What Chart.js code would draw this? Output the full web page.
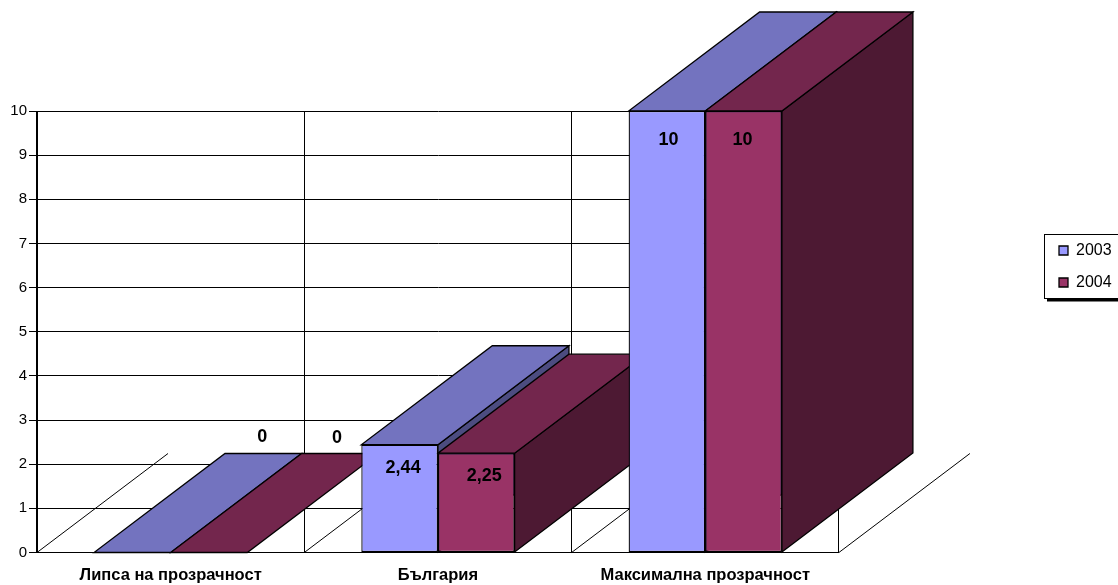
<!DOCTYPE html>
<html>
<head>
<meta charset="utf-8">
<style>html,body{margin:0;padding:0;background:#fff}canvas{display:block}</style>
<script src="https://cdn.jsdelivr.net/npm/chart.js@4"></script>
</head>
<body>
<canvas id="c" width="1118" height="585"></canvas>
<script>
const categories = ["Липса на прозрачност", "България", "Максимална прозрачност"];
const seriesNames = ["2003", "2004"];
const values2003 = [0, 2.44, 10];
const values2004 = [0, 2.25, 10];
const yTicks = [0,1,2,3,4,5,6,7,8,9,10];
const valueLabels2003 = ["0", "2,44", "10"];
const valueLabels2004 = ["0", "2,25", "10"];

const FONT = '"Liberation Sans", Arial, sans-serif';
const DEPTH_X = 131, DEPTH_Y = -99;
const STYLE = [
  {front:'#9999FF', top:'#7373BF', side:'#4C4C80'},
  {front:'#993366', top:'#73264D', side:'#4D1933'}
];
const LABEL_TEXT = [valueLabels2003, valueLabels2004];
const LABEL_OFFSET = [
  [[130,-115],[3.5,23],[1.5,29]],
  [[128,-114],[8,23],[-1,29]]
];

function poly(ctx, pts, fill){
  ctx.beginPath();
  pts.forEach((p,i)=> i ? ctx.lineTo(p[0],p[1]) : ctx.moveTo(p[0],p[1]));
  ctx.closePath();
  ctx.fillStyle = fill; ctx.fill();
  ctx.strokeStyle = '#000'; ctx.lineWidth = 1.3; ctx.stroke();
}

const threeD = {
  id:'threeD',
  afterLayout(chart){
    const l = chart.legend;
    const w = l.width, h = l.height;
    l.left = 1043; l.right = 1043 + w; l.top = 226.5; l.bottom = 226.5 + h;
  },
  beforeDatasetsDraw(chart){
    const ctx = chart.ctx, x = chart.scales.x, y = chart.scales.y;
    ctx.save();
    ctx.strokeStyle = '#000'; ctx.lineWidth = 1;
    for (let i = 0; i <= categories.length; i++){
      const px = x.left + (x.right - x.left) * i / categories.length;
      ctx.beginPath();
      ctx.moveTo(px, y.bottom);
      ctx.lineTo(px + DEPTH_X, y.bottom + DEPTH_Y);
      ctx.stroke();
    }
    const metas = chart.data.datasets.map((d,i)=>chart.getDatasetMeta(i));
    categories.forEach((c, ci)=>{
      metas.forEach((m, si)=>{
        const b = m.data[ci].getProps(['x','y','base','width'], true);
        const L = b.x - b.width/2, R = b.x + b.width/2, T = b.y, B = b.base;
        const s = STYLE[si];
        if (B > T) poly(ctx, [[R,B],[R+DEPTH_X,B+DEPTH_Y],[R+DEPTH_X,T+DEPTH_Y],[R,T]], s.side);
        poly(ctx, [[L,T],[R,T],[R+DEPTH_X,T+DEPTH_Y],[L+DEPTH_X,T+DEPTH_Y]], s.top);
      });
    });
    ctx.restore();
  },
  afterDatasetsDraw(chart){
    const ctx = chart.ctx;
    ctx.save();
    ctx.fillStyle = '#000';
    ctx.font = 'bold 18px ' + FONT;
    ctx.textAlign = 'center'; ctx.textBaseline = 'middle';
    chart.data.datasets.forEach((d, si)=>{
      chart.getDatasetMeta(si).data.forEach((el, ci)=>{
        const o = LABEL_OFFSET[si][ci];
        ctx.fillText(LABEL_TEXT[si][ci], el.x + o[0], el.y + o[1]);
      });
    });
    ctx.restore();
  },
  beforeDraw(chart){
    const ctx = chart.ctx;
    ctx.save();
    ctx.fillStyle = '#fff'; ctx.fillRect(0,0,chart.width,chart.height);
    ctx.fillStyle = '#000'; ctx.fillRect(1047, 298, 71, 3.5);
    ctx.strokeStyle = '#000'; ctx.lineWidth = 1;
    ctx.fillStyle = '#fff';
    ctx.fillRect(1044.5, 234.5, 74, 64);
    ctx.strokeRect(1044.5, 234.5, 74, 64);
    ctx.restore();
  }
};

new Chart(document.getElementById('c'), {
  type:'bar',
  data:{
    labels: categories,
    datasets:[
      {label:seriesNames[0], data:values2003, backgroundColor:STYLE[0].front, borderColor:'#000', borderWidth:1.3, borderSkipped:false},
      {label:seriesNames[1], data:values2004, backgroundColor:STYLE[1].front, borderColor:'#000', borderWidth:1.3, borderSkipped:false}
    ]
  },
  options:{
    responsive:false, animation:false, devicePixelRatio:1,
    datasets:{bar:{categoryPercentage:0.5735, barPercentage:1}},
    layout:{padding:{left:0, right:200.5, top:111, bottom:0}},
    plugins:{
      title:{display:false}, tooltip:{enabled:false},
      legend:{
        display:true, position:'right', align:'start',
        labels:{boxWidth:9, boxHeight:9, padding:16, color:'#000', font:{family:FONT, size:16}}
      }
    },
    scales:{
      x:{
        afterFit(s){ s.height = 32.5; },
        grid:{color:'#000', lineWidth:1, drawTicks:false, offset:true},
        border:{color:'#000', width:1},
        ticks:{color:'#000', padding:13, maxRotation:0, minRotation:0, autoSkip:false, font:{family:FONT, size:16.5, weight:'bold'}}
      },
      y:{
        min:0, max:10,
        afterFit(s){ s.width = 37; },
        afterBuildTicks(s){ s.ticks = yTicks.map(v=>({value:v})); },
        grid:{color:'#000', lineWidth:1, tickLength:8},
        border:{color:'#000', width:1},
        ticks:{color:'#000', padding:2, font:{family:FONT, size:15}}
      }
    }
  },
  plugins:[threeD]
});
</script>
</body>
</html>
